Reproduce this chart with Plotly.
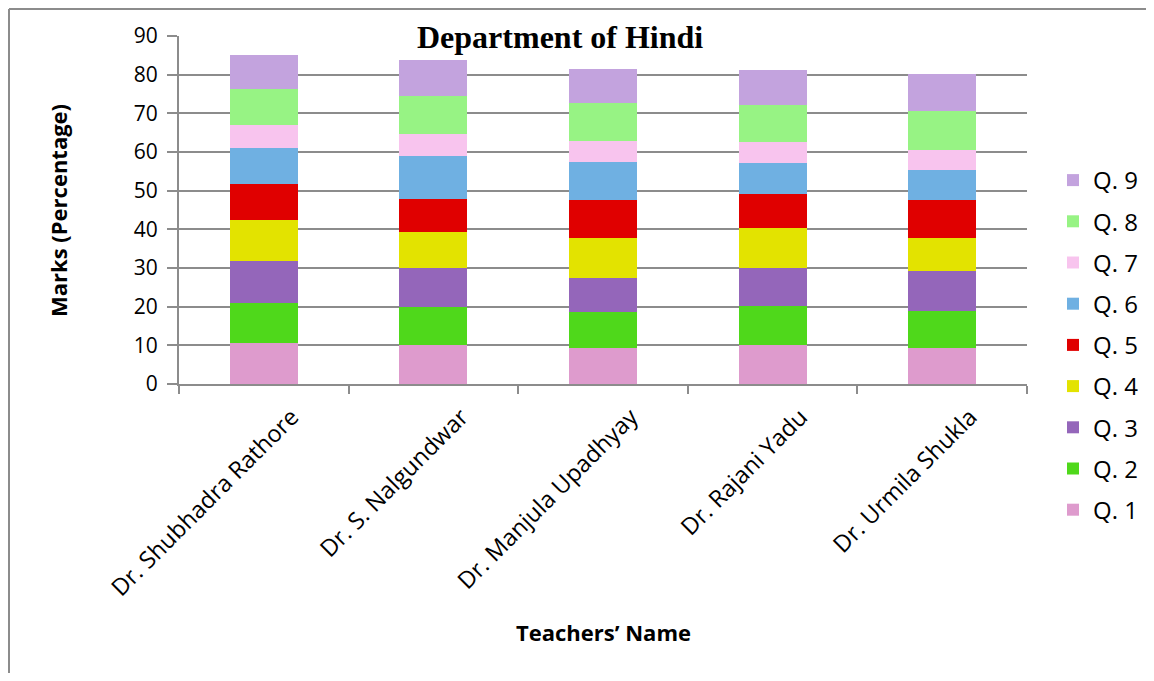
import plotly.graph_objects as go

teachers = ["Dr. Shubhadra Rathore", "Dr. S. Nalgundwar", "Dr. Manjula Upadhyay",
            "Dr. Rajani Yadu", "Dr. Urmila Shukla"]
questions = ["Q. 1", "Q. 2", "Q. 3", "Q. 4", "Q. 5", "Q. 6", "Q. 7", "Q. 8", "Q. 9"]

q1 = [10.5, 10.0, 9.2, 10.0, 9.2]
q2 = [10.5, 9.9, 9.4, 10.3, 9.7]
q3 = [10.75, 10.1, 8.8, 9.7, 10.3]
q4 = [10.65, 9.4, 10.3, 10.3, 8.5]
q5 = [9.3, 8.5, 9.8, 8.8, 9.8]
q6 = [9.4, 11.0, 10.0, 8.1, 7.9]
q7 = [5.8, 5.7, 5.4, 5.3, 5.2]
q8 = [9.3, 9.8, 9.8, 9.7, 9.9]
q9 = [9.0, 9.4, 8.8, 9.1, 9.6]
series = [q1, q2, q3, q4, q5, q6, q7, q8, q9]

colors = ["#DE9BCD", "#4FD81B", "#9466BA", "#E3E300", "#E00000",
          "#6FB0E2", "#F8C4EE", "#97F384", "#C3A3DE"]

y_ticks = [0, 10, 20, 30, 40, 50, 60, 70, 80, 90]

# page offset (browser body margin)
OFF = 8
W, H = 1154 - 2 * OFF, 681 - 2 * OFF
L, R, T, B = 179 - OFF, 1027 - OFF, 36 - OFF, 384 - OFF

fig = go.Figure()
for i, (name, vals, col) in enumerate(zip(questions, series, colors)):
    fig.add_trace(go.Bar(x=teachers, y=vals, name=name, marker_color=col,
                         marker_line_width=0, legendgroup=name,
                         legendrank=1000 - i))

def px_x(p):
    return (p - OFF - L) / (R - L)

def px_y(p):
    return (B - (p - OFF)) / (B - T)

font_main = "'Open Sans', sans-serif"

fig.update_layout(
    width=W, height=H,
    margin=dict(l=L, r=W - R, t=T, b=H - B, autoexpand=False),
    barmode="stack", bargap=0.6,
    plot_bgcolor="white", paper_bgcolor="white",
    font=dict(family=font_main, size=22, color="black"),
    showlegend=True,
    legend=dict(x=px_x(1053), y=px_y(158), xanchor="left", yanchor="top",
                traceorder="grouped", tracegroupgap=7, maxheight=640,
                font=dict(size=24, family=font_main), bgcolor="rgba(0,0,0,0)"),
    xaxis=dict(tickangle=-45, showline=True, linecolor="#8C8C8C", linewidth=2,
               ticks="outside", tickson="boundaries", ticklen=8, tickcolor="#8C8C8C",
               tickwidth=2, tickfont=dict(size=23.5, family=font_main), showgrid=False,
               ticklabelshift=28, ticklabelstandoff=8, automargin=False),
    yaxis=dict(range=[0, 90], tickvals=y_ticks, showline=True, linecolor="#8C8C8C",
               linewidth=2, ticks="outside", ticklen=10, tickcolor="#8C8C8C", tickwidth=2,
               showgrid=True, gridcolor="#8C8C8C", gridwidth=2, zeroline=False,
               ticklabelstandoff=5, tickfont=dict(size=21, family=font_main),
               automargin=False),
    annotations=[
        dict(text="<b>Department of Hindi</b>", xref="paper", yref="paper",
             x=px_x(560), y=px_y(37), xanchor="center", yanchor="middle", showarrow=False,
             font=dict(family="'Liberation Serif', 'Times New Roman', serif", size=32, color="black")),
        dict(text="<b>Marks (Percentage)</b>", xref="paper", yref="paper",
             x=px_x(58), y=px_y(210), xanchor="center", yanchor="middle", showarrow=False,
             textangle=-90, font=dict(size=22, family=font_main)),
        dict(text="<b>Teachers’ Name</b>", xref="paper", yref="paper",
             x=px_x(603), y=px_y(632), xanchor="center", yanchor="middle", showarrow=False,
             font=dict(size=22, family=font_main)),
    ],
    shapes=[
        dict(type="line", xref="paper", yref="paper", x0=px_x(9), x1=px_x(9),
             y0=px_y(9), y1=px_y(680), line=dict(color="#8C8C8C", width=2)),
        dict(type="line", xref="paper", yref="paper", x0=px_x(9), x1=px_x(1160),
             y0=px_y(9), y1=px_y(9), line=dict(color="#8C8C8C", width=2)),
    ],
)

fig.write_html("out.html")
